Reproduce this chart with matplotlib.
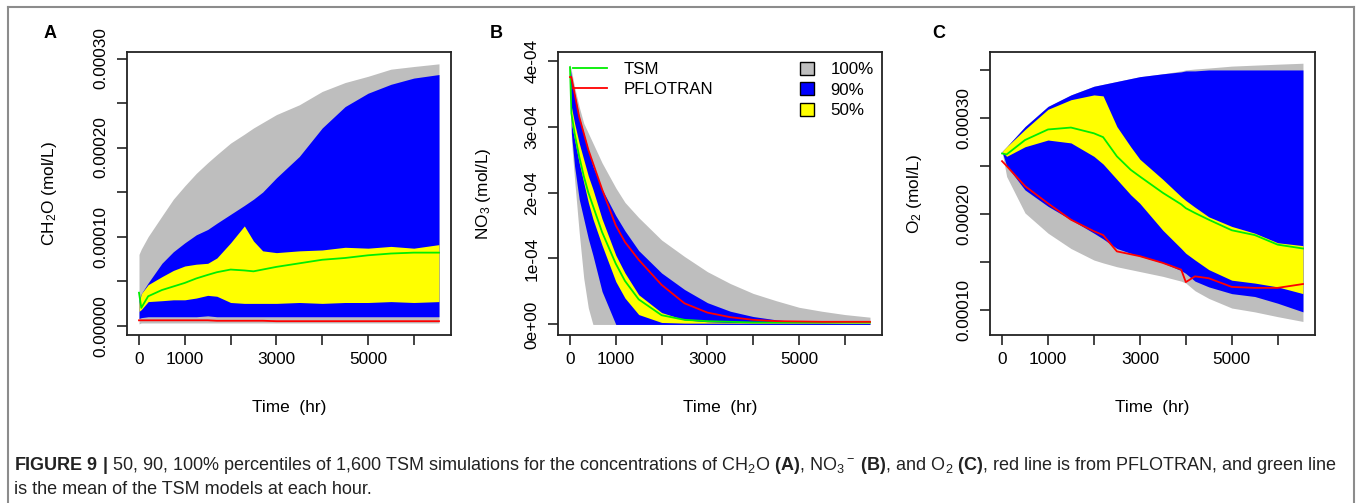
import numpy as np
import matplotlib
matplotlib.use('Agg')
import matplotlib.pyplot as plt
from matplotlib.lines import Line2D
from matplotlib.patches import Patch

plt.rcParams['font.family'] = ['Liberation Sans', 'DejaVu Sans']
plt.rcParams['mathtext.fontset'] = 'custom'
plt.rcParams['mathtext.rm'] = 'Liberation Sans'
plt.rcParams['mathtext.it'] = 'Liberation Sans:italic'
plt.rcParams['mathtext.bf'] = 'Liberation Sans:bold'

GRAY, BLUE, YELLOW = '#bebebe', '#0000ff', '#ffff00'
GREEN, RED = '#00ee00', '#ff0000'

# ---- Panel A: CH2O (values x 1e-5 mol/L) ----
t_a = [0, 50, 200, 500, 750, 1000, 1250, 1500, 1700, 2000, 2300, 2500, 2700, 3000,
       3500, 4000, 4500, 5000, 5500, 6000, 6550]
a_max = [8.0, 8.6, 10.0, 12.3, 14.2, 15.7, 17.1, 18.3, 19.2, 20.5, 21.5, 22.2, 22.8, 23.7,
         24.8, 26.3, 27.3, 28.0, 28.8, 29.1, 29.4]
a_q95 = [2.9, 3.6, 4.8, 7.0, 8.3, 9.3, 10.2, 10.8, 11.5, 12.5, 13.5, 14.2, 15.0, 16.6,
         19.0, 22.2, 24.6, 26.1, 27.1, 27.8, 28.2]
a_q75 = [2.5, 3.6, 4.6, 5.5, 6.2, 6.7, 6.9, 7.0, 7.6, 9.3, 11.2, 9.5, 8.4, 8.2,
         8.4, 8.5, 8.8, 8.7, 8.9, 8.7, 9.1]
a_mean = [3.7, 2.0, 3.3, 4.0, 4.4, 4.8, 5.3, 5.7, 6.0, 6.3, 6.2, 6.1, 6.3, 6.6,
          7.0, 7.4, 7.6, 7.9, 8.1, 8.2, 8.2]
a_q25 = [1.6, 1.8, 2.7, 2.8, 2.9, 2.9, 3.1, 3.4, 3.3, 2.6, 2.5, 2.5, 2.5, 2.5,
         2.6, 2.5, 2.6, 2.6, 2.7, 2.6, 2.7]
a_q05 = [0.8, 0.9, 1.0, 1.0, 1.0, 1.0, 1.0, 1.1, 1.0, 1.0, 1.0, 1.0, 1.0, 1.0,
         1.0, 1.0, 1.0, 1.0, 1.0, 1.0, 1.0]
a_min = [0.2, 0.3, 0.3, 0.3, 0.3, 0.3, 0.3, 0.3, 0.3, 0.3, 0.3, 0.3, 0.3, 0.3,
         0.3, 0.3, 0.3, 0.3, 0.3, 0.3, 0.3]
a_pflo = [0.6, 0.6, 0.6, 0.6, 0.6, 0.6, 0.6, 0.6, 0.55, 0.55, 0.55, 0.55, 0.55, 0.5,
          0.5, 0.5, 0.5, 0.5, 0.5, 0.5, 0.5]

# ---- Panel B: NO3 (values x 1e-4 mol/L) ----
t_b = [0, 30, 100, 200, 300, 400, 500, 700, 1000, 1200, 1500, 2000, 2500,
       3000, 3500, 4000, 4500, 5000, 5500, 6000, 6550]
b_max = [3.95, 3.85, 3.6, 3.3, 3.05, 2.9, 2.75, 2.45, 2.07, 1.85, 1.62, 1.28,
         1.03, 0.80, 0.62, 0.47, 0.36, 0.26, 0.20, 0.15, 0.11]
b_q95 = [3.9, 3.75, 3.5, 3.15, 2.9, 2.65, 2.4, 2.05, 1.65, 1.42, 1.12, 0.78,
         0.53, 0.33, 0.20, 0.12, 0.07, 0.04, 0.03, 0.02, 0.02]
b_q75 = [3.9, 3.3, 3.05, 2.75, 2.5, 2.25, 2.05, 1.6, 1.05, 0.78, 0.45, 0.18,
         0.07, 0.04, 0.03, 0.03, 0.03, 0.03, 0.03, 0.03, 0.03]
b_mean = [3.9, 3.2, 2.9, 2.55, 2.25, 2.0, 1.8, 1.4, 0.92, 0.66, 0.38, 0.14,
          0.07, 0.05, 0.04, 0.03, 0.03, 0.03, 0.03, 0.03, 0.03]
b_q25 = [3.9, 3.05, 2.8, 2.45, 2.15, 1.85, 1.6, 1.2, 0.65, 0.4, 0.15, 0.03,
         0.02, 0.02, 0.02, 0.02, 0.02, 0.02, 0.02, 0.02, 0.02]
b_q05 = [3.9, 2.9, 2.4, 1.9, 1.6, 1.3, 1.05, 0.5, 0.0, 0.0, 0.0, 0.0,
         0.0, 0.0, 0.0, 0.0, 0.0, 0.0, 0.0, 0.0, 0.0]
b_min = [3.95, 2.8, 2.2, 1.4, 0.7, 0.25, 0.0, 0.0, 0.0, 0.0, 0.0, 0.0,
         0.0, 0.0, 0.0, 0.0, 0.0, 0.0, 0.0, 0.0, 0.0]
b_pflo = [3.75, 3.75, 3.5, 3.15, 2.9, 2.65, 2.45, 2.05, 1.5, 1.25, 0.98, 0.6,
          0.32, 0.18, 0.11, 0.07, 0.05, 0.045, 0.04, 0.04, 0.04]

# ---- Panel C: O2 (values x 1e-4 mol/L) ----
t_c = [0, 100, 500, 1000, 1500, 2000, 2200, 2500, 2800, 3000, 3500, 3900,
       4000, 4200, 4500, 5000, 5500, 6000, 6550]
c_max = [2.65, 2.70, 2.91, 3.12, 3.24, 3.33, 3.35, 3.38, 3.41, 3.43, 3.46, 3.49,
         3.50, 3.51, 3.52, 3.54, 3.55, 3.56, 3.57]
c_q95 = [2.65, 2.70, 2.91, 3.12, 3.24, 3.33, 3.35, 3.38, 3.41, 3.43, 3.46, 3.48,
         3.49, 3.49, 3.50, 3.50, 3.50, 3.50, 3.50]
c_q75 = [2.65, 2.70, 2.88, 3.09, 3.19, 3.24, 3.23, 2.91, 2.70, 2.57, 2.36, 2.18,
         2.14, 2.07, 1.97, 1.87, 1.80, 1.70, 1.67]
c_mean = [2.63, 2.62, 2.77, 2.88, 2.90, 2.84, 2.80, 2.60, 2.46, 2.39, 2.22, 2.10,
          2.06, 2.01, 1.94, 1.83, 1.78, 1.68, 1.64]
c_q25 = [2.65, 2.60, 2.70, 2.77, 2.74, 2.60, 2.52, 2.36, 2.20, 2.11, 1.83, 1.64,
         1.59, 1.52, 1.42, 1.31, 1.28, 1.24, 1.17]
c_q05 = [2.65, 2.50, 2.25, 2.08, 1.94, 1.80, 1.74, 1.64, 1.59, 1.56, 1.49, 1.41,
         1.38, 1.30, 1.24, 1.17, 1.14, 1.07, 0.98]
c_min = [2.65, 2.39, 2.01, 1.80, 1.64, 1.52, 1.49, 1.45, 1.42, 1.40, 1.35, 1.30,
         1.28, 1.20, 1.12, 1.02, 0.98, 0.93, 0.88]
c_pflo = [2.55, 2.50, 2.29, 2.11, 1.94, 1.82, 1.78, 1.61, 1.58, 1.56, 1.49, 1.42,
          1.29, 1.35, 1.33, 1.24, 1.23, 1.23, 1.27]

xticks = [0, 1000, 2000, 3000, 4000, 5000, 6000]
xticklabels = ['0', '1000', '', '3000', '', '5000', '']

fig = plt.figure(figsize=(13.62, 5.03), dpi=100)
W, H = 1362, 503


def make_axes(x0, x1, y0, y1):
    return fig.add_axes([x0 / W, 1 - y1 / H, (x1 - x0) / W, (y1 - y0) / H])


def draw_panel(ax, t, scale, vmax, q95, q75, mean, q25, q05, vmin, pflo):
    t = np.array(t)
    s = lambda v: np.array(v) * scale
    ax.fill_between(t, s(vmin), s(vmax), color=GRAY, lw=0)
    ax.fill_between(t, s(q05), s(q95), color=BLUE, lw=0)
    ax.fill_between(t, s(q25), s(q75), color=YELLOW, lw=0)
    ax.plot(t, s(mean), color=GREEN, lw=1.3)
    ax.plot(t, s(pflo), color=RED, lw=1.3)
    ax.set_xlim(-262, 6812)
    ax.set_xticks(xticks)
    ax.set_xticklabels(xticklabels)
    for sp in ax.spines.values():
        sp.set_linewidth(1.3)
        sp.set_color('#222222')
    ax.tick_params(length=7, width=1.2, color='#222222', labelsize=12.4)
    ax.tick_params(axis='x', pad=5)
    ax.tick_params(axis='y', pad=6.5)
    ax.text(0.5, -0.255, 'Time  (hr)', transform=ax.transAxes,
            ha='center', va='center', fontsize=12.4)


axA = make_axes(127, 451, 52, 335)
draw_panel(axA, t_a, 1e-5, a_max, a_q95, a_q75, a_mean, a_q25, a_q05, a_min, a_pflo)
axA.set_ylim(-0.105e-4, 3.073e-4)
axA.set_yticks(np.arange(0, 3.01e-4, 0.5e-4))
axA.set_yticklabels(['0.00000', '', '0.00010', '', '0.00020', '', '0.00030'],
                    rotation=90, va='center')
axA.text(-0.238, 0.5, 'CH$_2$O (mol/L)', transform=axA.transAxes, rotation=90,
         ha='center', va='center', fontsize=12.4)

axB = make_axes(558, 882, 52, 335)
draw_panel(axB, t_b, 1e-4, b_max, b_q95, b_q75, b_mean, b_q25, b_q05, b_min, b_pflo)
axB.set_ylim(-0.16e-4, 4.13e-4)
axB.set_yticks(np.arange(0, 4.01e-4, 1e-4))
axB.set_yticklabels(['0e+00', '1e-04', '2e-04', '3e-04', '4e-04'],
                    rotation=90, va='center')
axB.text(-0.231, 0.5, 'NO$_3$ (mol/L)', transform=axB.transAxes, rotation=90,
         ha='center', va='center', fontsize=12.4)
leg1 = axB.legend(handles=[Line2D([], [], color=GREEN, lw=1.3),
                           Line2D([], [], color=RED, lw=1.3)],
                  labels=['TSM', 'PFLOTRAN'], loc='upper left',
                  bbox_to_anchor=(0.046, 0.965), frameon=False, fontsize=12.2,
                  handlelength=2.0, handletextpad=1.0, labelspacing=0.3,
                  borderpad=0, borderaxespad=0)
axB.add_artist(leg1)
axB.legend(handles=[Patch(facecolor=c, edgecolor='black', lw=1) for c in (GRAY, BLUE, YELLOW)],
           labels=['100%', '90%', '50%'], loc='upper right',
           bbox_to_anchor=(0.975, 0.965), frameon=False, fontsize=12.2,
           handlelength=0.8, handleheight=0.8, handletextpad=1.0,
           labelspacing=0.3, borderpad=0, borderaxespad=0)

axC = make_axes(990, 1315, 52, 335)
draw_panel(axC, t_c, 1e-4, c_max, c_q95, c_q75, c_mean, c_q25, c_q05, c_min, c_pflo)
axC.set_ylim(0.739e-4, 3.687e-4)
axC.set_yticks(np.arange(1e-4, 3.51e-4, 0.5e-4))
axC.set_yticklabels(['0.00010', '', '0.00020', '', '0.00030', ''],
                    rotation=90, va='center')
axC.text(-0.231, 0.5, 'O$_2$ (mol/L)', transform=axC.transAxes, rotation=90,
         ha='center', va='center', fontsize=12.4)

# panel letters
for x, letter in [(50, 'A'), (496, 'B'), (939, 'C')]:
    fig.text(x / W, 1 - 34 / H, letter, ha='center', va='center',
             fontsize=13, fontweight='bold')

# outer frame (open at the bottom)
frame = dict(color='#8c8c8c', lw=1.5, transform=fig.transFigure)
fig.add_artist(Line2D([8 / W, 8 / W], [0, 1 - 7 / H], **frame))
fig.add_artist(Line2D([1354 / W, 1354 / W], [0, 1 - 7 / H], **frame))
fig.add_artist(Line2D([8 / W, 1354 / W], [1 - 7 / H, 1 - 7 / H], **frame))

# caption
cap1 = (r'$\mathbf{FIGURE\ 9\ |}$ 50, 90, 100% percentiles of 1,600 TSM simulations for the '
        r'concentrations of CH$_2$O $\mathbf{(A)}$, NO$_3$$^-$ $\mathbf{(B)}$, and O$_2$ '
        r'$\mathbf{(C)}$, red line is from PFLOTRAN, and green line')
cap2 = 'is the mean of the TSM models at each hour.'
fig.text(14 / W, 1 - 465 / H, cap1, ha='left', va='center', fontsize=13.0, color='#222222')
fig.text(14 / W, 1 - 489 / H, cap2, ha='left', va='center', fontsize=13.0, color='#222222')

fig.savefig('out.png', dpi=100)
